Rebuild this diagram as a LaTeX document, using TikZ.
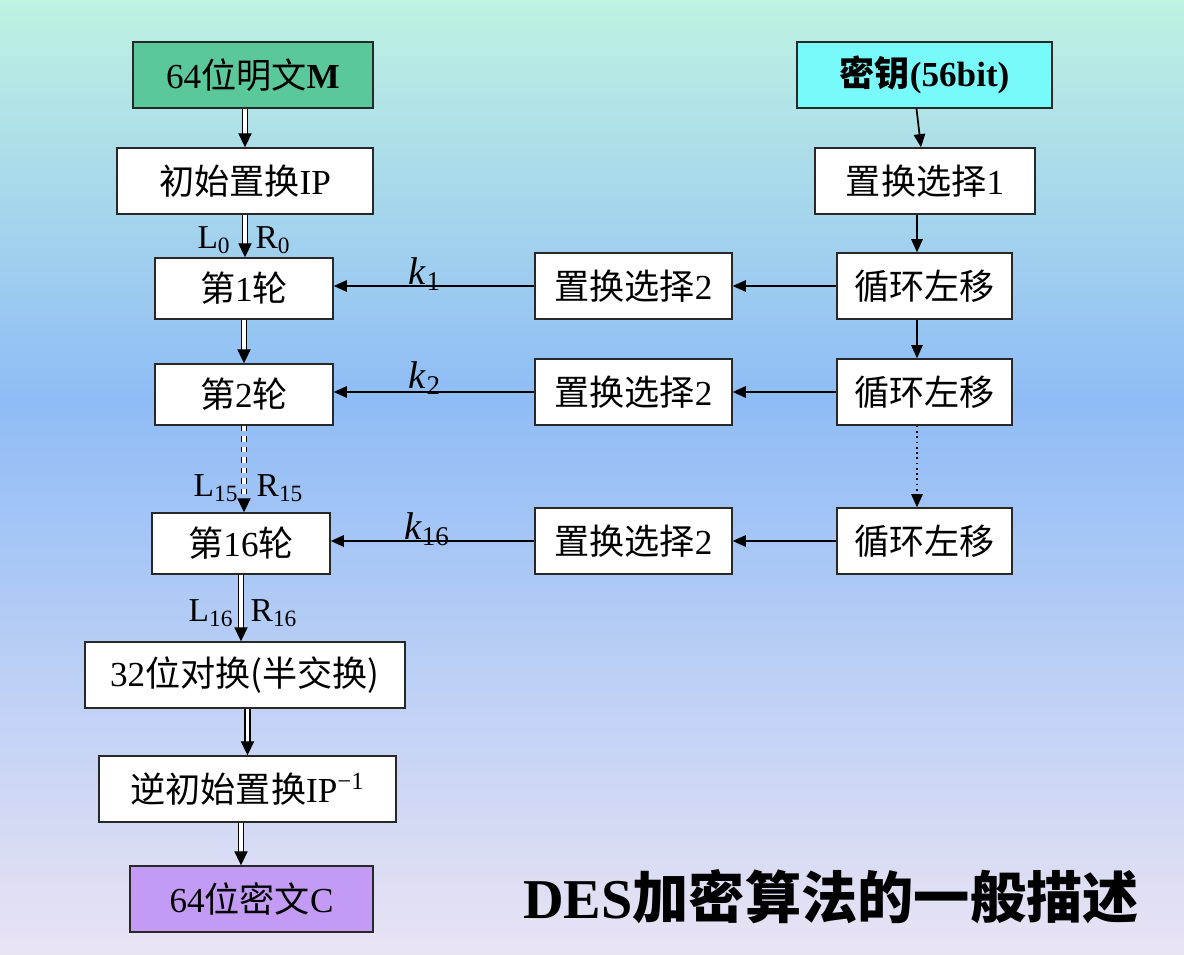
\documentclass[tikz,border=0pt]{standalone}
\usepackage{fontspec}
\setmainfont{Liberation Serif}
\newfontfamily\cjk{Noto Sans CJK SC}
\usetikzlibrary{arrows.meta, positioning, calc}
\definecolor{bgtop}{RGB}{190,242,225}
\definecolor{bgmid}{RGB}{143,188,246}
\definecolor{bgbot}{RGB}{233,227,244}
\definecolor{plaingreen}{RGB}{90,200,155}
\definecolor{keycyan}{RGB}{120,250,250}
\definecolor{cipherpurple}{RGB}{195,155,245}
\definecolor{edgegray}{RGB}{40,40,40}

\begin{document}
\begin{tikzpicture}[
        x=0.02cm, y=-0.02cm,
        every node/.style={font=\fontsize{20}{23}\selectfont},
        box/.style={rectangle, draw=edgegray, line width=0.8pt, fill=white, minimum height=1.32cm, inner sep=0pt},
        roundbox/.style={box, minimum width=3.56cm, minimum height=1.22cm},
        shiftbox/.style={box, minimum width=3.5cm},
        pctwo/.style={box, minimum width=3.94cm},
        lbl/.style={font=\fontsize{19}{21}\selectfont},
        klbl/.style={font=\fontsize{22}{24}\selectfont},
        dbl/.style={double, double distance=2pt, line width=0.8pt, -{Triangle[length=8pt,width=7.5pt]}},
        arr/.style={line width=1pt, -{Triangle[length=7.5pt,width=6.5pt]}}
    ]
        \shade[top color=bgtop, bottom color=bgmid] (0,0) rectangle (1184,400);
        \shade[top color=bgmid, bottom color=bgbot] (0,399.5) rectangle (1184,954);

        % data path
        \node[box, fill=plaingreen, minimum width=4.8cm] (plain) at (253,75) {64{\cjk 位明文}\textbf{M}};
        \node[box, minimum width=5.12cm] (ip) at (245,181) {{\cjk 初始置换}IP};
        \node[roundbox] (r1) at (244,288.5) {{\cjk 第}1{\cjk 轮}};
        \node[roundbox] (r2) at (244,394.5) {{\cjk 第}2{\cjk 轮}};
        \node[roundbox] (r16) at (241,543.5) {{\cjk 第}16{\cjk 轮}};
        \node[box, minimum width=6.4cm] (swap) at (245,675) {32{\cjk 位对换(半交换)}};
        \node[box, minimum width=5.94cm] (ipinv) at (247.5,789) {{\cjk 逆初始置换}IP\textsuperscript{−1}};
        \node[box, fill=cipherpurple, minimum width=4.86cm] (cipher) at (251.5,899) {64{\cjk 位密文}C};

        % key schedule
        \node[box, fill=keycyan, minimum width=5.1cm] (key) at (924.5,75) {\textbf{{\cjk 密钥}(56bit)}};
        \node[box, minimum width=4.4cm] (pc1) at (925,181) {{\cjk 置换选择}1};
        \node[shiftbox] (s1) at (924.5,286) {{\cjk 循环左移}};
        \node[shiftbox] (s2) at (924.5,392) {{\cjk 循环左移}};
        \node[shiftbox] (s16) at (924.5,541) {{\cjk 循环左移}};
        \node[pctwo] (p1) at (633.5,286) {{\cjk 置换选择}2};
        \node[pctwo] (p2) at (633.5,392) {{\cjk 置换选择}2};
        \node[pctwo] (p16) at (633.5,541) {{\cjk 置换选择}2};
        \coordinate (kx) at (917,0);

        % labels
        \node[lbl] (l0) at (214,240) {L\textsubscript{0}};
        \node[lbl] (rr0) at (273,240) {R\textsubscript{0}};
        \node[lbl] (l15) at (216,488) {L\textsubscript{15}};
        \node[lbl] (rr15) at (280,488) {R\textsubscript{15}};
        \node[lbl] (l16) at (211,613) {L\textsubscript{16}};
        \node[lbl] (rr16) at (274,613) {R\textsubscript{16}};
        \node[klbl] (k1) at (425,274) {\textit{k}\textsubscript{1}};
        \node[klbl] (k2) at (425,378) {\textit{k}\textsubscript{2}};
        \node[klbl] (k16) at (427,529) {\textit{k}\textsubscript{16}};

        \node[font=\fontsize{32}{37}\selectfont\bfseries] (title) at (831,897) {DES{\cjk 加密算法的一般描述}};

        % arrows
        \draw[dbl] (plain.south -| ip.north) -- (ip.north);
        \draw[dbl] (ip.south) -- (ip.south |- r1.north);
        \draw[dbl] (r1.south) -- (r2.north);
        \draw[dbl, dashed] (r2.south) -- (r2.south |- r16.north);
        \draw[dbl] (r16.south) -- (r16.south |- swap.north);
        \draw[dbl] (ipinv.north |- swap.south) -- (ipinv.north);
        \draw[dbl] (r16.south |- ipinv.south) -- (r16.south |- cipher.north);

        \draw[arr] ($(key.south)+(-8,0)$) -- ($(pc1.north)+(-4,0)$);
        \draw[arr] (pc1.south -| kx) -- (s1.north -| kx);
        \draw[arr] (s1.south -| kx) -- (s2.north -| kx);
        \draw[arr, dotted] (s2.south -| kx) -- (s16.north -| kx);

        \draw[arr] (s1.west) -- (p1.east);
        \draw[arr] (s2.west) -- (p2.east);
        \draw[arr] (s16.west) -- (p16.east);
        \draw[arr] (p1.west) -- (p1.west -| r1.east);
        \draw[arr] (p2.west) -- (p2.west -| r2.east);
        \draw[arr] (p16.west) -- (p16.west -| r16.east);
    \end{tikzpicture}
\end{document}
